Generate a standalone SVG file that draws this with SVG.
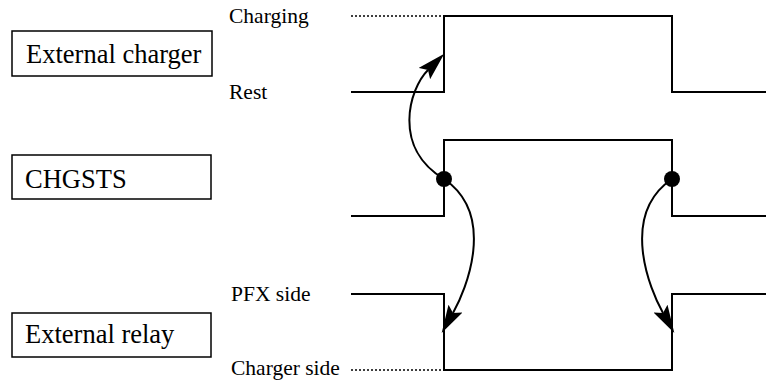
<svg xmlns="http://www.w3.org/2000/svg" width="766" height="387" viewBox="0 0 766 387">
<style>
text{font-family:"Liberation Serif","Times New Roman",Times,serif;fill:#000}
.box{fill:#fff;stroke:#000;stroke-width:1.5}
.bt{font-size:26.5px}
.lt{font-size:21.5px}
.wave{fill:none;stroke:#000;stroke-width:2}
.dot{fill:none;stroke:#000;stroke-width:1.5;stroke-dasharray:2,2}
.arc{fill:none;stroke:#000;stroke-width:2;marker-end:url(#ah)}
</style>
<defs>
<marker id="ah" markerUnits="userSpaceOnUse" viewBox="0 0 28 16" markerWidth="28" markerHeight="16" refX="5" refY="8" orient="auto">
<path d="M0,0 L28,8 L0,16 L5,8 z" fill="#000"/>
</marker>
</defs>
<rect width="766" height="387" fill="#fff"/>
<g id="external-charger">
<rect class="box" x="12" y="31" width="200" height="45"/>
<text class="bt" x="26" y="63">External charger</text>
</g>
<g id="chgsts">
<rect class="box" x="12" y="155" width="199" height="44"/>
<text class="bt" x="25" y="188">CHGSTS</text>
</g>
<g id="external-relay">
<rect class="box" x="12" y="313" width="199" height="44"/>
<text class="bt" x="25" y="343">External relay</text>
</g>
<g id="charger-wave">
<text class="lt" x="229" y="23">Charging</text>
<text class="lt" x="229" y="99">Rest</text>
<path class="dot" d="M351,16 H444"/>
<path class="wave" d="M351,92 H444 V16 H672 V92 H766"/>
</g>
<g id="chgsts-wave">
<path class="wave" d="M351,216 H444 V140 H672 V216 H766"/>
</g>
<g id="relay-wave">
<text class="lt" x="231" y="301">PFX side</text>
<text class="lt" x="231" y="375">Charger side</text>
<path class="dot" d="M351,370 H444"/>
<path class="wave" d="M351,294 H444 V370 H672 V294 H766"/>
</g>
<g id="connectors">
<path class="arc" d="M444,179 C392,148 409,89 428,70"/>
<path class="arc" d="M444,179 C497,215 466,290 453,313"/>
<path class="arc" d="M672,179 C619,215 650,290 663,313"/>
<circle cx="444" cy="179" r="8" fill="#000"/>
<circle cx="672" cy="179" r="8" fill="#000"/>
</g>
</svg>
